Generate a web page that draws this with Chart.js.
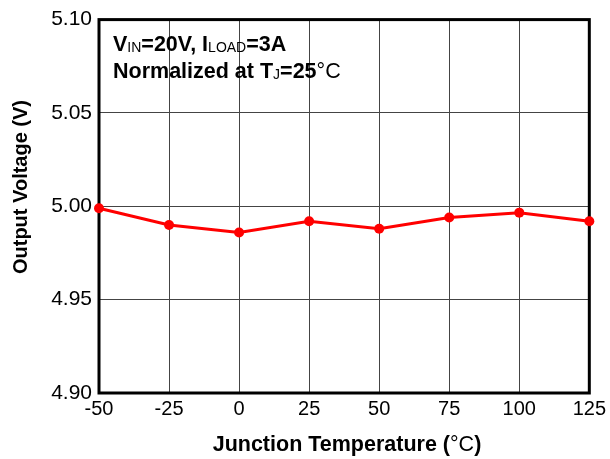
<!DOCTYPE html>
<html>
<head>
<meta charset="utf-8">
<script src="https://cdn.jsdelivr.net/npm/chart.js@4.4.1/dist/chart.umd.min.js"></script>
<style>
html,body{margin:0;padding:0;background:#fff;}
#wrap{width:610px;height:459px;}
</style>
</head>
<body>
<div id="wrap"><canvas id="c" width="610" height="459"></canvas></div>
<script>
const temperatures = [-50, -25, 0, 25, 50, 75, 100, 125];
const outputVoltage = [4.999, 4.990, 4.986, 4.992, 4.988, 4.994, 4.9966, 4.992];
const xTicks = [-50, -25, 0, 25, 50, 75, 100, 125];
const yTicks = [4.90, 4.95, 5.00, 5.05, 5.10];
const xTitle = [['Junction Temperature (', 'b'], ['°C', 'r'], [')', 'b']];
const yTitle = 'Output Voltage (V)';
const noteLine1 = [['V', 'b'], ['IN', 's'], ['=20V, I', 'b'], ['LOAD', 's'], ['=3A', 'b']];
const noteLine2 = [['Normalized at T', 'b'], ['J', 's'], ['=25', 'b'], ['°C', 'r']];

const FONT = '"Liberation Sans", Arial, sans-serif';

function setFont(ctx, k, size) {
  if (k === 'b') ctx.font = 'bold ' + size + 'px ' + FONT;
  else if (k === 'r') ctx.font = size + 'px ' + FONT;
  else ctx.font = Math.round(size * 0.66) + 'px ' + FONT;
}
function drawParts(ctx, parts, x, y, size) {
  for (const [t, k] of parts) {
    setFont(ctx, k, size);
    ctx.fillText(t, x, k === 's' ? y + 1 : y);
    x += ctx.measureText(t).width;
  }
}
function partsWidth(ctx, parts, size) {
  let w = 0;
  for (const [t, k] of parts) { setFont(ctx, k, size); w += ctx.measureText(t).width; }
  return w;
}

const frame = {
  id: 'frame',
  beforeDatasetsDraw(chart) {
    const a = chart.chartArea, ctx = chart.ctx;
    ctx.save();
    ctx.strokeStyle = '#000';
    ctx.lineWidth = 3;
    ctx.strokeRect(a.left, a.top, a.right - a.left, a.bottom - a.top);
    ctx.restore();
  },
  afterDraw(chart) {
    const ctx = chart.ctx, a = chart.chartArea;
    ctx.save();
    ctx.fillStyle = '#000';
    ctx.textBaseline = 'alphabetic';
    ctx.textAlign = 'left';
    drawParts(ctx, noteLine1, 113, 51, 21.5);
    drawParts(ctx, noteLine2, 113, 78, 21.5);
    // x axis title
    const xs = 21.5;
    const w = partsWidth(ctx, xTitle, xs);
    drawParts(ctx, xTitle, 347 - w / 2, 451, xs);
    // y axis title
    ctx.translate(27, 187);
    ctx.rotate(-Math.PI / 2);
    ctx.font = 'bold 20px ' + FONT;
    ctx.textAlign = 'center';
    ctx.fillText(yTitle, 0, 0);
    ctx.restore();
  }
};

new Chart(document.getElementById('c'), {
  type: 'line',
  data: {
    datasets: [{
      data: temperatures.map((t, i) => ({x: t, y: outputVoltage[i]})),
      borderColor: '#ff0000',
      backgroundColor: '#ff0000',
      borderWidth: 3,
      pointRadius: 5,
      pointBorderWidth: 0,
      pointBackgroundColor: '#ff0000',
      tension: 0,
      clip: false
    }]
  },
  options: {
    responsive: false,
    animation: false,
    devicePixelRatio: 1,
    layout: {padding: {left: 0, right: 18, top: 15, bottom: 0}},
    plugins: {legend: {display: false}, tooltip: {enabled: false}},
    scales: {
      x: {
        type: 'linear',
        min: -50, max: 125,
        afterBuildTicks: s => { s.ticks = xTicks.map(v => ({value: v})); },
        afterFit: s => { s.height = 66; },
        grid: {color: '#444', lineWidth: 1, drawTicks: false},
        border: {display: false},
        ticks: {color: '#000', font: {family: FONT, size: 20}, padding: 4, maxRotation: 0, autoSkip: false},
        title: {display: false}
      },
      y: {
        min: 4.90, max: 5.10,
        afterBuildTicks: s => { s.ticks = yTicks.map(v => ({value: v})); },
        afterFit: s => { s.width = 99; },
        grid: {color: '#444', lineWidth: 1, drawTicks: false},
        border: {display: false},
        ticks: {color: '#000', font: {family: FONT, size: 21}, padding: 7, callback: v => v.toFixed(2)},
        title: {display: false}
      }
    }
  },
  plugins: [frame]
});
</script>
</body>
</html>
